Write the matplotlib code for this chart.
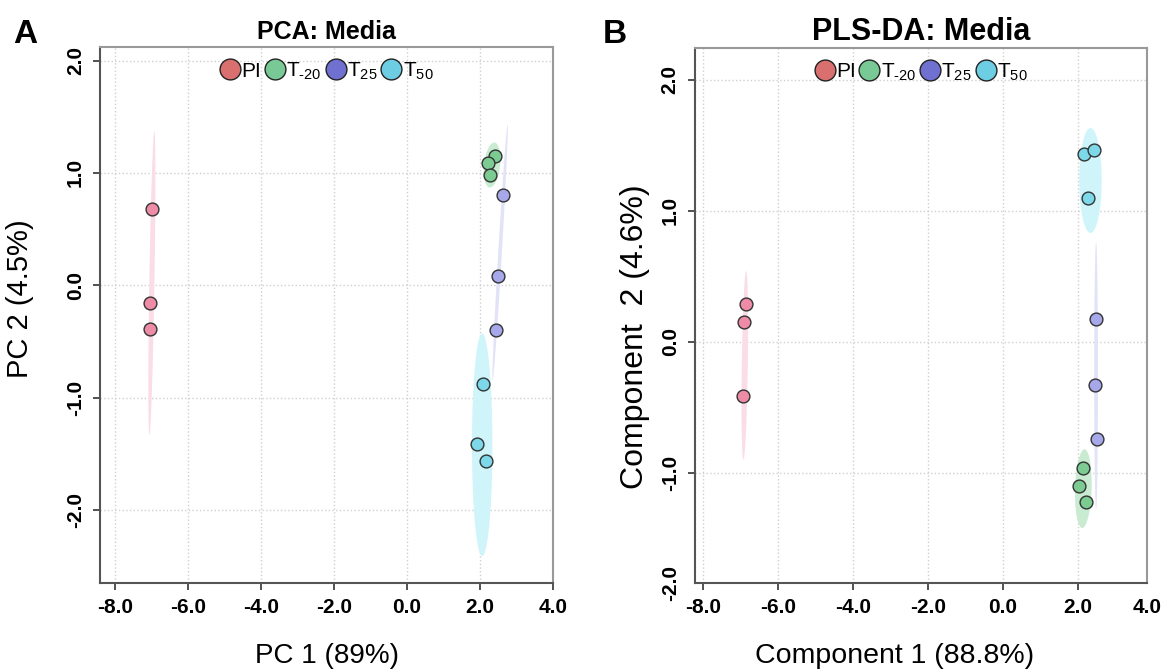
import numpy as np
import matplotlib
matplotlib.use("Agg")
import matplotlib.pyplot as plt
from matplotlib.lines import Line2D

plt.rcParams['font.family'] = ['Liberation Sans', 'DejaVu Sans']
plt.rcParams['mathtext.fontset'] = 'custom'
plt.rcParams['mathtext.rm'] = 'Liberation Sans'
plt.rcParams['mathtext.default'] = 'regular'

groups = ['PI', 'T$_{\u201020}$', 'T$_{25}$', 'T$_{50}$']

# PCA scores (PC1, PC2), three samples per group
pca_x = {'PI': [-7.00, -7.05, -7.04], 'T-20': [2.42, 2.23, 2.28],
         'T25': [2.62, 2.49, 2.44], 'T50': [2.07, 1.92, 2.16]}
pca_y = {'PI': [0.68, -0.16, -0.39], 'T-20': [1.15, 1.09, 0.98],
         'T25': [0.80, 0.08, -0.40], 'T50': [-0.88, -1.41, -1.56]}

# PLS-DA scores (comp 1, comp 2)
pls_x = {'PI': [-6.86, -6.91, -6.93], 'T-20': [2.13, 2.04, 2.22],
         'T25': [2.49, 2.47, 2.51], 'T50': [2.18, 2.44, 2.28]}
pls_y = {'PI': [0.29, 0.15, -0.41], 'T-20': [-0.96, -1.10, -1.22],
         'T25': [0.17, -0.33, -0.74], 'T50': [1.43, 1.46, 1.10]}

# confidence ellipses: centre, half-width, half-height, shear
pca_ell = {'PI': (-6.99, 0.02, 0.07, 1.35, 0.05), 'T-20': (2.33, 1.07, 0.22, 0.20, 0.3),
           'T25': (2.55, 0.29, 0.05, 1.14, 0.18), 'T50': (2.06, -1.42, 0.28, 0.99, 0.0)}
pls_ell = {'PI': (-6.89, -0.18, 0.08, 0.72, 0.05), 'T-20': (2.15, -1.12, 0.22, 0.30, 0.1),
           'T25': (2.49, -0.26, 0.05, 1.02, 0.0), 'T50': (2.34, 1.23, 0.30, 0.40, 0.0)}

keys = ['PI', 'T-20', 'T25', 'T50']
point_col = {'PI': '#EE8BA6', 'T-20': '#7CCB92', 'T25': '#A7A8EA', 'T50': '#7DD9EA'}
ell_col = {'PI': '#FADDE6', 'T-20': '#C9EBD1', 'T25': '#E2E3F7', 'T50': '#CFF5FB'}
legend_col = ['#D9706F', '#79C996', '#6F70D0', '#6DCDE2']

xticks = [-8, -6, -4, -2, 0, 2, 4]
yticks = [-2, -1, 0, 1, 2]

fig = plt.figure(figsize=(11.62, 6.71), dpi=100)
axA = fig.add_axes([0.0861, 0.1311, 0.3898, 0.7988])
axB = fig.add_axes([0.5981, 0.1311, 0.3890, 0.7973])


def draw_panel(ax, xs, ys, ells, title, tsize, xlim, ylim):
    t = np.linspace(0, 2 * np.pi, 200)
    for k in keys:
        cx, cy, rx, ry, sh = ells[k]
        ex = cx + rx * np.cos(t) + sh * ry * np.sin(t)
        ey = cy + ry * np.sin(t)
        ax.fill(ex, ey, color=ell_col[k], lw=0, zorder=1)
    for k in keys:
        ax.scatter(xs[k], ys[k], s=85, c=point_col[k], edgecolors='#333333',
                   linewidths=1.0, zorder=3)
    ax.set_xlim(*xlim)
    ax.set_ylim(*ylim)
    ax.set_xticks([v for v in xticks if xlim[0] <= v <= xlim[1]])
    ax.set_yticks([v for v in yticks if ylim[0] <= v <= ylim[1]])
    ax.set_xticklabels([f'{v:.1f}' for v in ax.get_xticks()], fontweight='bold', fontsize=15)
    ax.set_yticklabels([f'{v:.1f}' for v in ax.get_yticks()], fontweight='bold', fontsize=15,
                       rotation=90, va='center')
    ax.grid(True, color='#d0d0d0', linestyle=':', linewidth=1.0, zorder=0)
    ax.set_axisbelow(True)
    for s in ['left', 'bottom']:
        ax.spines[s].set_color('#555555')
        ax.spines[s].set_linewidth(1.5)
    for s in ['top', 'right']:
        ax.spines[s].set_color('#999999')
        ax.spines[s].set_linewidth(1.5)
    ax.tick_params(length=5, width=1.2, color='#333333', pad=6)
    ax.tick_params(which='minor', length=0, pad=11)
    ax.set_title(title, fontweight='bold', fontsize=tsize, pad=6)
    handles = [Line2D([], [], marker='o', ls='', markersize=15, markerfacecolor=c,
                      markeredgecolor='#222222', markeredgewidth=1.0) for c in legend_col]
    ax.legend(handles, groups, loc='center', bbox_to_anchor=(0.5, 0.955), ncol=4,
              frameon=False, fontsize=15, handletextpad=0.05, columnspacing=0.15,
              handlelength=1.0, borderpad=0)


draw_panel(axA, pca_x, pca_y, pca_ell, 'PCA: Media', 18, (-8.41, 4.0), (-2.65, 2.12))
draw_panel(axB, pls_x, pls_y, pls_ell, 'PLS-DA: Media', 22, (-8.22, 3.85), (-1.84, 2.24))

axA.set_xlabel('PC 1 (89%)', fontsize=20)
axA.xaxis.set_label_coords(0.5, -0.112)
axA.set_ylabel('PC 2 (4.5%)', fontsize=21)
axA.yaxis.set_label_coords(-0.145, 0.53)

axB.set_xlabel('Component 1 (88.8%)', fontsize=20.5)
axB.xaxis.set_label_coords(0.442, -0.112)
axB.set_ylabel('Component  2 (4.6%)', fontsize=23)
axB.yaxis.set_label_coords(-0.10, 0.46)

# edge labels that R printed at the plot border
axB.set_xticks([3.85], minor=True)
axB.set_xticklabels(['4.0'], minor=True, fontweight='bold', fontsize=15)
axB.set_yticks([-1.84], minor=True)
axB.set_yticklabels(['-2.0'], minor=True, fontweight='bold', fontsize=15,
                    rotation=90, va='center')

fig.text(0.011, 0.949, 'A', fontweight='bold', fontsize=24, va='center')
fig.text(0.519, 0.949, 'B', fontweight='bold', fontsize=24, va='center')

fig.savefig('out.png', dpi=100)
